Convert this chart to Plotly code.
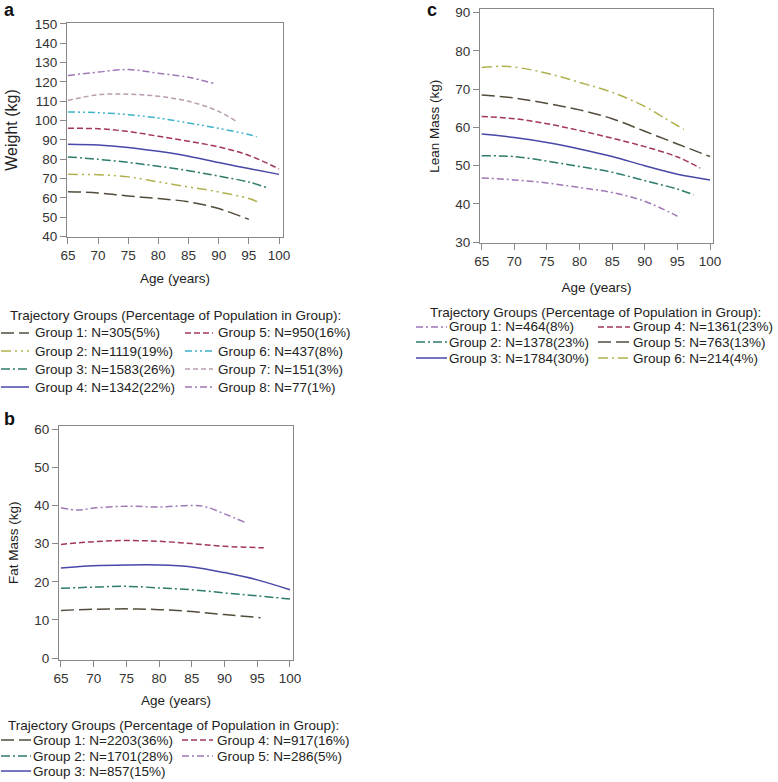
import plotly.graph_objects as go

# ------------------------- data -------------------------
age_ticks = [65, 70, 75, 80, 85, 90, 95, 100]

# Panel a: Weight trajectories (8 groups)
weight_n = [305, 1119, 1583, 1342, 950, 437, 151, 77]
weight_pct = [5, 19, 26, 22, 16, 8, 3, 1]
weight_ages = [
    [65, 70, 75, 80, 85, 90, 95],
    [65, 70, 75, 80, 85, 90, 95, 96.5],
    [65, 70, 75, 80, 85, 90, 95, 98.3],
    [65, 70, 75, 80, 85, 90, 95, 100],
    [65, 70, 75, 80, 85, 90, 95, 100],
    [65, 70, 75, 80, 85, 90, 95, 96.3],
    [65, 70, 75, 80, 85, 90, 93],
    [65, 70, 75, 80, 85, 89.2],
]
weight_vals = [
    [63.2, 62.6, 61.0, 59.7, 58.0, 54.5, 48.9],
    [72.2, 72.0, 70.9, 68.3, 65.7, 63.1, 59.7, 57.9],
    [81.2, 80.0, 78.4, 76.4, 74.1, 71.3, 68.2, 65.0],
    [87.8, 87.4, 86.1, 84.1, 81.6, 78.3, 75.2, 72.2],
    [96.0, 95.8, 94.4, 91.9, 89.3, 86.4, 82.0, 75.0],
    [104.5, 104.1, 103.1, 101.3, 98.8, 96.0, 92.8, 91.7],
    [110.4, 113.4, 113.7, 112.6, 110.0, 104.8, 99.4],
    [123.3, 125.1, 126.4, 124.5, 122.4, 119.2],
]
weight_ticks = [40, 50, 60, 70, 80, 90, 100, 110, 120, 130, 140, 150]

# Panel c: Lean mass trajectories (6 groups)
lean_n = [464, 1378, 1784, 1361, 763, 214]
lean_pct = [8, 23, 30, 23, 13, 4]
lean_ages = [
    [65, 70, 75, 80, 85, 90, 95],
    [65, 70, 75, 80, 85, 90, 95, 97.5],
    [65, 70, 75, 80, 85, 90, 95, 100],
    [65, 70, 75, 80, 85, 90, 95, 98.5],
    [65, 70, 75, 80, 85, 90, 95, 100],
    [65, 68, 70, 75, 80, 85, 90, 93, 96],
]
lean_vals = [
    [46.8, 46.3, 45.5, 44.3, 43.0, 40.7, 36.8],
    [52.6, 52.4, 51.2, 49.8, 48.3, 46.1, 43.9, 42.4],
    [58.3, 57.4, 56.1, 54.4, 52.4, 50.0, 47.8, 46.3],
    [62.9, 62.3, 61.0, 59.2, 57.2, 55.0, 52.3, 49.4],
    [68.5, 67.7, 66.3, 64.6, 62.3, 59.0, 55.7, 52.4],
    [75.7, 76.0, 75.8, 74.2, 71.8, 69.2, 65.5, 62.5, 59.5],
]
lean_ticks = [30, 40, 50, 60, 70, 80, 90]

# Panel b: Fat mass trajectories (5 groups)
fat_n = [2203, 1701, 857, 917, 286]
fat_pct = [36, 28, 15, 16, 5]
fat_ages = [
    [65, 70, 75, 80, 85, 90, 95.5],
    [65, 70, 75, 80, 85, 90, 95, 100],
    [65, 70, 75, 80, 85, 90, 95, 100],
    [65, 70, 75, 80, 85, 90, 96],
    [65, 67.5, 70, 75, 80, 85, 87, 90, 93.1],
]
fat_vals = [
    [12.5, 12.8, 12.9, 12.7, 12.2, 11.4, 10.6],
    [18.3, 18.6, 18.8, 18.4, 17.9, 17.1, 16.3, 15.5],
    [23.6, 24.2, 24.4, 24.4, 23.9, 22.4, 20.5, 17.9],
    [29.8, 30.5, 30.8, 30.6, 30.0, 29.3, 28.9],
    [39.4, 38.8, 39.3, 39.8, 39.6, 40.0, 39.7, 37.8, 35.6],
]
fat_ticks = [0, 10, 20, 30, 40, 50, 60]

legend_title = "Trajectory Groups (Percentage of Population in Group):"

# ------------------------- styles -------------------------
DARK, OLIVE, TEAL, BLUE = "#524c3b", "#b0b04e", "#2e7b6c", "#4747a8"
MAROON, CYAN, PINK, PURPLE = "#a3375a", "#3db3c9", "#b99db1", "#a078b8"
LONG = "13px,5px"
DASH = "6px,3px"
DASHDOT = "9px,3px,2px,3px"
DDOT = "7px,3px,2px,3px,2px,3px"
OLIVE_DDOT = "10px,4px,2px,4px,2px,4px"
OLIVE_DD = "10px,4px,2px,4px"
SHORT = "5px,3px"
PDASH = "7px,3px,2px,3px"

weight_colors = [DARK, OLIVE, TEAL, BLUE, MAROON, CYAN, PINK, PURPLE]
weight_dashes = [LONG, OLIVE_DDOT, DASHDOT, "solid", DASH, DDOT, SHORT, PDASH]
lean_colors = [PURPLE, TEAL, BLUE, MAROON, DARK, OLIVE]
lean_dashes = [PDASH, DASHDOT, "solid", DASH, LONG, OLIVE_DD]
fat_colors = [DARK, TEAL, BLUE, MAROON, PURPLE]
fat_dashes = [LONG, DASHDOT, "solid", DASH, PDASH]

W, H = 778, 782
FONT = "Liberation Sans, Arial, sans-serif"
TXT = "#222222"
AX = "#888888"
FS = 13.5


def px(x):
    return x / W


def py(y):
    return 1 - y / H


fig = go.Figure()

panels = [
    (weight_ages, weight_vals, weight_colors, weight_dashes, "x", "y"),
    (lean_ages, lean_vals, lean_colors, lean_dashes, "x2", "y2"),
    (fat_ages, fat_vals, fat_colors, fat_dashes, "x3", "y3"),
]
for ages, vals, cols, dashes, xa, ya in panels:
    for i, (a, v) in enumerate(zip(ages, vals)):
        fig.add_trace(go.Scatter(
            x=a, y=v, mode="lines", xaxis=xa, yaxis=ya,
            line=dict(color=cols[i], dash=dashes[i], width=1.5,
                      shape="spline", smoothing=1.0),
            showlegend=False, hoverinfo="skip",
        ))


def axis(domain, rng, ticks, title, standoff, title_size=FS):
    return dict(
        domain=domain, range=rng, tickvals=ticks, ticks="outside",
        ticklen=6, tickcolor=AX, tickwidth=1, showline=True, linecolor=AX,
        linewidth=1, mirror=True, showgrid=False, zeroline=False,
        tickfont=dict(family=FONT, size=FS, color="#333333"),
        title=dict(text=title, standoff=standoff,
                   font=dict(family=FONT, size=title_size, color=TXT)),
        fixedrange=True, automargin=False,
    )


layout = dict(
    width=W, height=H, margin=dict(l=0, r=0, t=0, b=0),
    paper_bgcolor="white", plot_bgcolor="white", showlegend=False,
    font=dict(family=FONT, size=FS, color=TXT),
    xaxis=dict(axis([px(67), px(283)], [64.85, 100.66], age_ticks, "Age (years)", 11), anchor="y"),
    yaxis=dict(axis([py(237), py(23)], [39.8, 150.5], weight_ticks, "Weight (kg)", 13, 16), anchor="x"),
    xaxis2=dict(axis([px(480), px(713)], [64.74, 100.46], age_ticks, "Age (years)", 14), anchor="y2"),
    yaxis2=dict(axis([py(243), py(9.3)], [29.8, 90.9], lean_ticks, "Lean Mass (kg)", 12), anchor="x2"),
    xaxis3=dict(axis([px(59), px(293)], [64.7, 100.46], age_ticks, "Age (years)", 10), anchor="y3"),
    yaxis3=dict(axis([py(660), py(425.7)], [-0.5, 60.9], fat_ticks, "Fat Mass (kg)", 12), anchor="x3"),
)
fig.update_layout(**layout)

annotations = []
shapes = []

# panel letters
for letter, lx, ly, anch in [("a", 9, 0, "top"), ("c", 432, 0, "top"), ("b", 9, 419, "middle")]:
    annotations.append(dict(
        text="<b>%s</b>" % letter, x=px(lx), y=py(ly), xref="paper", yref="paper",
        xanchor="center", yanchor=anch, showarrow=False, yshift=2 if anch == "top" else 0,
        font=dict(family=FONT, size=18, color="#111111")))


def add_legend(ns, pcts, cols, dashes, title_xy, col_specs, rows_y, per_col):
    annotations.append(dict(
        text=legend_title, x=px(title_xy[0] - 2), y=py(title_xy[1]),
        xref="paper", yref="paper", xanchor="left", yanchor="middle",
        showarrow=False, font=dict(family=FONT, size=FS, color=TXT)))
    for i in range(len(ns)):
        c, r = divmod(i, per_col)
        x0, x1, xt = col_specs[c]
        yy = rows_y[r]
        shapes.append(dict(
            type="line", xref="paper", yref="paper",
            x0=px(x0), x1=px(x1), y0=py(yy), y1=py(yy),
            line=dict(color=cols[i], dash=dashes[i], width=1.5)))
        annotations.append(dict(
            text="Group %d: N=%d(%d%%)" % (i + 1, ns[i], pcts[i]),
            x=px(xt - 2), y=py(yy), xref="paper", yref="paper",
            xanchor="left", yanchor="middle", showarrow=False,
            font=dict(family=FONT, size=FS, color=TXT)))


add_legend(weight_n, weight_pct, weight_colors, weight_dashes, (10, 315),
           [(1, 29, 35), (185, 213, 218)], [333, 351, 369, 387], 4)
add_legend(lean_n, lean_pct, lean_colors, lean_dashes, (430, 312),
           [(416, 447, 449), (598, 630, 633)], [327, 342, 358], 3)
add_legend(fat_n, fat_pct, fat_colors, fat_dashes, (8, 725),
           [(1, 31, 33), (182, 213, 217)], [740, 756, 771], 3)

fig.update_layout(annotations=annotations, shapes=shapes)
fig.write_html(
    "out.html",
    config={"displayModeBar": False, "staticPlot": True},
    post_script="document.body.style.margin='0';document.body.style.padding='0';",
)
